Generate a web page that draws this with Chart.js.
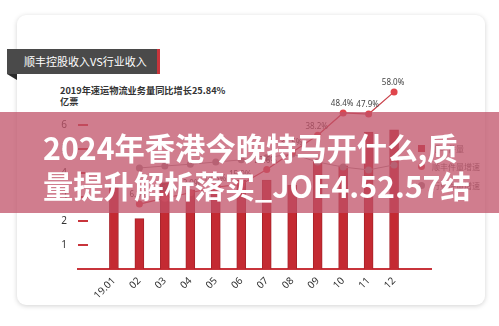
<!DOCTYPE html>
<html>
<head>
<meta charset="utf-8">
<script src="https://cdn.jsdelivr.net/npm/chart.js@4.4.1/dist/chart.umd.min.js"></script>
<style>
  html, body { margin: 0; padding: 0; background: #fff; }
  body { width: 499px; height: 326px; position: relative; overflow: hidden;
         font-family: "Noto Sans CJK SC", "Noto Sans", sans-serif; }
  .card { position: absolute; left: 17px; top: 15px; width: 468px; height: 290px;
          background: #fff; border-radius: 9px; box-shadow: 0 1px 5px rgba(0,0,0,0.18); }
  .tag { position: absolute; left: 7px; top: 49px; width: 153px; height: 25px; box-sizing: border-box;
         background: #4a4a4a; border-right: 3px solid #c8343b; color: #fff; font-size: 11px;
         line-height: 25px; padding-left: 17px; white-space: nowrap; }
  .fold { position: absolute; left: 7px; top: 74px; width: 0; height: 0;
          border-top: 6px solid #2b2b2b; border-left: 10px solid transparent; }
  .sub { position: absolute; left: 60px; top: 85px; font-size: 9.2px; line-height: 11px;
         color: #333; font-weight: 600; white-space: nowrap; }
  #wrap { position: absolute; left: 0; top: 0; width: 499px; height: 326px; }
  .legend { position: absolute; left: 418px; top: 139px; font-size: 8px; color: #666; }
  .legend .item { height: 18.5px; display: flex; align-items: center; white-space: nowrap; }
  .legend .mk { width: 7px; height: 7px; margin-right: 7px; }
  .banner { position: absolute; left: 0; top: 112px; width: 499px; height: 101px;
            background: rgba(192,81,104,0.75); }
  .banner .t { position: absolute; left: 43px; top: 16px; color: #fff; font-size: 30.3px;
               font-weight: 700; line-height: 38px; white-space: nowrap; }
</style>
</head>
<body>
<div class="card"></div>
<div class="tag">顺丰控股收入VS行业收入</div>
<div class="fold"></div>
<div class="sub">2019年速运物流业务量同比增长25.84%<br>亿票</div>
<div id="wrap"><canvas id="c"></canvas></div>
<div class="legend" id="legend"></div>
<div class="banner"><div class="t">2024年香港今晚特马开什么,质<br>量提升解析落实_JOE4.52.57结</div></div>
<script>
// Monthly parcel volume (亿票) and year-on-year growth (%), 2019
const months = ['19.01', '02', '03', '04', '05', '06', '07', '08', '09', '10', '11', '12'];
const sfVolume = [3.4, 2.1, 3.6, 3.3, 3.5, 3.7, 3.7, 3.5, 4.5, 4.3, 5.7, 5.8];
const sfGrowth = [null, 6.8, 9.5, 12.0, 14.5, 15.9, 22.6, 30.5, 38.2, 48.4, 47.9, 58.0];
const industryGrowth = [null, 23.3, 24.2, 25.0, 26.0, 27.0, 28.0, 29.7, 26.0, 23.7, 22.4, 24.7];
const volumeTicks = [1, 2, 3, 4, 5, 6];
const seriesNames = ['顺丰件量', '顺丰件量增速', '行业件量增速'];

const RED = '#c8343b';

const pts = arr => arr.map((v, i) => ({ x: i, y: v }));

// short red tick dashes on the value axis + percentage labels over the SF growth line
const decor = {
  id: 'decor',
  afterDatasetsDraw(chart) {
    const { ctx, chartArea, scales } = chart;
    ctx.save();
    ctx.strokeStyle = RED;
    ctx.lineWidth = 2;
    scales.y.ticks.forEach(t => {
      const y = Math.round(scales.y.getPixelForValue(t.value));
      ctx.beginPath();
      ctx.moveTo(chartArea.left, y);
      ctx.lineTo(chartArea.left + 10, y);
      ctx.stroke();
    });
    const meta = chart.getDatasetMeta(1);
    ctx.font = '8px "Noto Sans", sans-serif';
    ctx.fillStyle = '#444';
    ctx.textAlign = 'center';
    ctx.textBaseline = 'bottom';
    meta.data.forEach((p, i) => {
      const v = sfGrowth[i];
      if (v == null) return;
      ctx.fillText(v.toFixed(1) + '%', p.x - 1, p.y - 5);
    });
    ctx.restore();
  }
};

const chart = new Chart(document.getElementById('c'), {
  data: {
    datasets: [
      {
        type: 'bar', label: seriesNames[0], data: pts(sfVolume), yAxisID: 'y',
        backgroundColor: '#c42a32', borderColor: '#a8222a', borderWidth: 1,
        barThickness: 9, order: 3
      },
      {
        type: 'line', label: seriesNames[1], data: pts(sfGrowth), yAxisID: 'y1',
        borderColor: '#c9414a', borderWidth: 1.2, pointRadius: 3.5, pointBorderWidth: 0,
        pointBackgroundColor: '#e0454c', tension: 0, order: 1, clip: false
      },
      {
        type: 'line', label: seriesNames[2], data: pts(industryGrowth), yAxisID: 'y1',
        borderColor: '#a2979a', borderWidth: 1, pointRadius: 3.5, pointBorderWidth: 0,
        pointBackgroundColor: '#9a8f92', tension: 0, order: 2, clip: false
      }
    ]
  },
  options: {
    responsive: true,
    maintainAspectRatio: false,
    animation: false,
    layout: { padding: { left: 0, right: 68, top: 77, bottom: 0 } },
    plugins: { legend: { display: false }, tooltip: { enabled: false } },
    scales: {
      x: {
        type: 'linear', min: -1.41, max: 12.45, offset: false,
        afterBuildTicks: s => { s.ticks = months.map((_, i) => ({ value: i })); },
        afterFit: s => { s.height = 57; },
        grid: { display: false, drawTicks: false },
        border: { color: RED, width: 2 },
        ticks: {
          callback: v => months[v], minRotation: 45, maxRotation: 45, autoSkip: false,
          color: '#333', font: { size: 10, family: '"Noto Sans", sans-serif' }, padding: 6
        }
      },
      y: {
        min: 0, max: 8,
        afterBuildTicks: s => { s.ticks = volumeTicks.map(v => ({ value: v })); },
        afterFit: s => { s.width = 78; },
        grid: { display: false, drawTicks: false },
        border: { display: false },
        ticks: { color: '#333', font: { size: 10, family: '"Noto Sans", sans-serif' }, padding: 11 }
      },
      y1: { display: false, position: 'right', min: -22.8, max: 64.8 }
    }
  },
  plugins: [decor]
});

// legend built from the chart's datasets
const legend = document.getElementById('legend');
chart.data.datasets.forEach(ds => {
  const item = document.createElement('div');
  item.className = 'item';
  const mk = document.createElement('span');
  mk.className = 'mk';
  mk.style.background = ds.type === 'bar' ? ds.backgroundColor : ds.pointBackgroundColor;
  if (ds.type !== 'bar') mk.style.borderRadius = '50%';
  item.appendChild(mk);
  item.appendChild(document.createTextNode(ds.label));
  legend.appendChild(item);
});
</script>
</body>
</html>
